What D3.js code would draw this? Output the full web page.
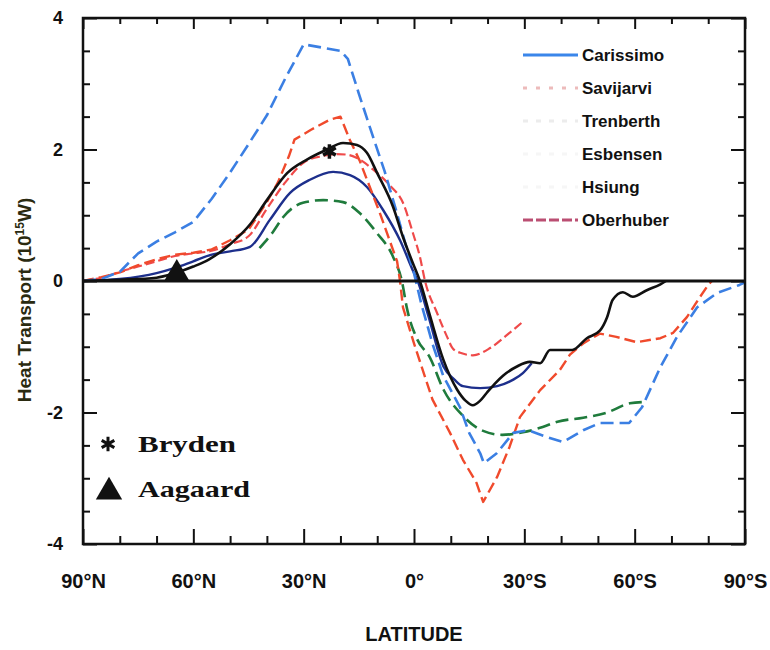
<!DOCTYPE html>
<html><head><meta charset="utf-8">
<script src="https://cdn.jsdelivr.net/npm/d3@7"></script>
<style>
html,body{margin:0;padding:0;background:#fff;}
svg{display:block;}
text{font-family:"Liberation Sans",Arial,sans-serif;font-weight:bold;fill:#111;}
</style></head>
<body>
<svg id="chart" width="770" height="650"></svg>
<script>
// ---- data (latitude in degrees, + = North; heat transport in 10^15 W) ----
const carissimo = [[90,0],[85,0.03],[80,0.14],[75,0.42],[70,0.6],[65,0.74],[60,0.9],[55,1.25],[50,1.65],[45,2.08],[40,2.52],[35,3.08],[30,3.6],[25,3.55],[20,3.5],[18,3.38],[15,2.85],[11,2.17],[8,1.67],[5,1.1],[2,0.5],[0,0.12],[-2,-0.35],[-5,-0.95],[-8,-1.45],[-12.5,-1.92],[-15,-2.31],[-18,-2.62],[-19,-2.77],[-22.5,-2.62],[-27,-2.31],[-31,-2.27],[-36,-2.37],[-40.5,-2.45],[-46,-2.27],[-50.5,-2.16],[-58.5,-2.16],[-62,-1.92],[-67,-1.31],[-71.5,-0.85],[-77,-0.4],[-82.5,-0.18],[-88.5,-0.06],[-90,-0.02]];
const savijarvi = [[90,0],[85,0.05],[80,0.14],[75,0.22],[70,0.3],[65,0.38],[60,0.42],[55,0.46],[50,0.56],[45,0.68],[40,1.1],[35,1.5],[30,1.8],[25,1.9],[21,1.93],[18,1.92],[15.5,1.87],[11,1.69],[6.5,1.45],[3,1.19],[0.3,0.73],[-1.6,0.37],[-3,0],[-6.3,-0.49],[-9,-0.85],[-10.6,-1.03],[-13,-1.1],[-16,-1.13],[-20.7,-1.02],[-25.3,-0.82],[-29.6,-0.62]];
const trenberth = [[90,0],[80,0.02],[70,0.05],[65,0.12],[60,0.22],[55.7,0.33],[50,0.56],[44.6,0.86],[40,1.23],[34.5,1.64],[29,1.85],[24,1.99],[19.3,2.1],[15.5,2.07],[12.8,1.95],[10,1.64],[5.7,1.13],[3,0.67],[0.3,0.27],[-1.6,0],[-4.3,-0.52],[-8,-1.2],[-11.7,-1.65],[-14,-1.82],[-16,-1.89],[-18,-1.82],[-19.8,-1.7],[-22,-1.56],[-24.2,-1.44],[-28,-1.3],[-31.5,-1.23],[-34.3,-1.25],[-37,-1.05],[-43,-1.05],[-47,-0.87],[-50.6,-0.75],[-52.5,-0.55],[-54,-0.29],[-56.8,-0.17],[-59.5,-0.24],[-63.3,-0.14],[-67,-0.05],[-68.5,0]];
const esbensen = [[42,0.5],[38.3,0.75],[35.6,0.97],[30.2,1.19],[24.7,1.23],[19.3,1.2],[14.7,1.03],[10.1,0.73],[5.7,0.37],[3.3,0],[1.9,-0.42],[-0.8,-0.88],[-4.3,-1.16],[-8,-1.65],[-13.3,-2.05],[-18.8,-2.28],[-24,-2.34],[-29.6,-2.3],[-35,-2.22],[-39,-2.14],[-46,-2.08],[-52.5,-2.0],[-58.7,-1.86],[-62.8,-1.84]];
const hsiung = [[90,0],[80,0.03],[70,0.12],[65,0.2],[60,0.3],[55,0.4],[50,0.45],[44.6,0.52],[39.2,0.93],[33.7,1.34],[28.3,1.54],[22,1.66],[17.4,1.61],[12.8,1.43],[8.4,1.08],[3.8,0.62],[0,0.12],[-1,0],[-4,-0.55],[-8,-1.3],[-11,-1.5],[-13.3,-1.6],[-18,-1.63],[-22.6,-1.6],[-27,-1.5],[-29.6,-1.4],[-32,-1.25]];
const oberhuber = [[90,0],[85,0.06],[80,0.13],[75,0.24],[70,0.33],[65,0.4],[60,0.43],[55,0.48],[50,0.62],[45,0.78],[40,1.2],[37,1.5],[34,1.9],[32.5,2.15],[28,2.3],[23,2.45],[20,2.5],[17.4,2.14],[14.7,1.82],[9.2,1.02],[4.6,0.3],[3.8,0],[3,-0.4],[0,-0.95],[-5,-1.8],[-9.8,-2.31],[-13.3,-2.72],[-17,-3.07],[-18.8,-3.36],[-22.6,-2.98],[-26,-2.52],[-28.8,-2.07],[-34.3,-1.66],[-39.7,-1.35],[-42.4,-1.12],[-46,-0.95],[-50.5,-0.8],[-55,-0.85],[-60.5,-0.93],[-67,-0.87],[-70.4,-0.79],[-74.2,-0.55],[-77.8,-0.24],[-80,-0.06],[-81,0]];
const bryden = [[23,1.97]];
const aagaard = [[64.5,0.12]];

const seriesNames = ["Carissimo","Savijarvi","Trenberth","Esbensen","Hsiung","Oberhuber"];
const seriesData = [carissimo, savijarvi, trenberth, esbensen, hsiung, oberhuber];
const xTickValues = [90,60,30,0,-30,-60,-90];
const xTickLabels = ["90°N","60°N","30°N","0°","30°S","60°S","90°S"];
const yTickValues = [4,2,0,-2,-4];
const yTickLabels = ["4","2","0","-2","-4"];

// ---- styles ----
const styles = {
  Carissimo:{color:"#3b7fe3", dash:"13,6", width:2.6, curve:d3.curveLinear, legendColor:"#3a86ea", legendDash:null, legendOpacity:1},
  Savijarvi:{color:"#ef4a4a", dash:"9,4", width:2.2, curve:d3.curveMonotoneX, legendColor:"#d86a6a", legendDash:"4,9", legendOpacity:0.45},
  Trenberth:{color:"#111111", dash:null, width:2.6, curve:d3.curveMonotoneX, legendColor:"#999", legendDash:"5,8", legendOpacity:0.18},
  Esbensen:{color:"#1f7b3c", dash:"13,6", width:2.6, curve:d3.curveMonotoneX, legendColor:"#aaa", legendDash:"5,8", legendOpacity:0.1},
  Hsiung:{color:"#1d2f8c", dash:null, width:2.4, curve:d3.curveMonotoneX, legendColor:"#aaa", legendDash:"5,8", legendOpacity:0.1},
  Oberhuber:{color:"#f04a2c", dash:"11,5", width:2.4, curve:d3.curveLinear, legendColor:"#b0305a", legendDash:"10,3", legendOpacity:0.85}
};

const X0 = 83, X1 = 745, Y0 = 18, Y1 = 544;
const svg = d3.select("#chart");
const x = d3.scaleLinear().domain([90,-90]).range([X0,X1]);
const y = d3.scaleLinear().domain([-4,4]).range([Y1,Y0]);

// ---- curves ----
const drawOrder = ["Esbensen","Hsiung","Savijarvi","Oberhuber","Carissimo","Trenberth"];
drawOrder.forEach(name => {
  const data = seriesData[seriesNames.indexOf(name)];
  const st = styles[name];
  const line = d3.line().x(d => x(d[0])).y(d => y(d[1])).curve(st.curve);
  svg.append("path").datum(data).attr("d", line)
    .attr("fill","none").attr("stroke",st.color).attr("stroke-width",st.width)
    .attr("stroke-dasharray",st.dash).attr("stroke-linejoin","round");
});

// zero line
svg.append("line").attr("x1",X0).attr("x2",X1).attr("y1",y(0)).attr("y2",y(0))
  .attr("stroke","#111").attr("stroke-width",3);

// ---- axes (ticks inward) ----
const minorY = d3.range(-4,4.001,0.5).filter(v => Math.abs(v % 2) > 1e-6);
const minorX = d3.range(-90,90.001,10).filter(v => Math.abs(v % 30) > 1e-6);
function styleAxis(g){ g.select(".domain").remove(); g.selectAll("line").attr("stroke","#111").attr("stroke-width",2); }

svg.append("g").attr("transform",`translate(${X0},0)`)
  .call(d3.axisLeft(y).tickValues(minorY).tickSize(-7).tickFormat("")).call(styleAxis);
svg.append("g").attr("transform",`translate(${X0},0)`)
  .call(d3.axisLeft(y).tickValues(yTickValues).tickSize(-14).tickPadding(20)
    .tickFormat((d,i) => yTickLabels[i])).call(styleAxis)
  .selectAll("text").style("font-size","18px").attr("font-family","Liberation Sans");
svg.append("g").attr("transform",`translate(${X1},0)`)
  .call(d3.axisRight(y).tickValues(minorY).tickSize(-7).tickFormat("")).call(styleAxis);
svg.append("g").attr("transform",`translate(${X1},0)`)
  .call(d3.axisRight(y).tickValues(yTickValues).tickSize(-14).tickFormat("")).call(styleAxis);

svg.append("g").attr("transform",`translate(0,${Y1})`)
  .call(d3.axisBottom(x).tickValues(minorX).tickSize(-8).tickFormat("")).call(styleAxis);
svg.append("g").attr("transform",`translate(0,${Y1})`)
  .call(d3.axisBottom(x).tickValues(xTickValues).tickSize(-15).tickPadding(30)
    .tickFormat((d,i) => xTickLabels[i])).call(styleAxis)
  .selectAll("text").style("font-size","20px");
svg.append("g").attr("transform",`translate(0,${Y0})`)
  .call(d3.axisTop(x).tickValues(minorX).tickSize(-6).tickFormat("")).call(styleAxis);
svg.append("g").attr("transform",`translate(0,${Y0})`)
  .call(d3.axisTop(x).tickValues(xTickValues).tickSize(-11).tickFormat("")).call(styleAxis);

// frame
svg.append("rect").attr("x",X0).attr("y",Y0).attr("width",X1-X0).attr("height",Y1-Y0)
  .attr("fill","none").attr("stroke","#111").attr("stroke-width",2.5);

// ---- axis titles ----
svg.append("text").attr("x",(X0+X1)/2).attr("y",641).attr("text-anchor","middle")
  .style("font-size","20px").text("LATITUDE");
const yt = svg.append("text").attr("transform","translate(31,300) rotate(-90)")
  .attr("text-anchor","middle").style("font-size","19px").style("fill","#2a2a10");
yt.append("tspan").text("Heat Transport (10");
yt.append("tspan").attr("dy",-7).style("font-size","12px").text("15");
yt.append("tspan").attr("dy",7).text("W)");

// ---- observation markers ----
svg.selectAll("path.bry").data(bryden).enter().append("path")
  .attr("transform", d => `translate(${x(d[0])},${y(d[1])})`)
  .attr("d", d3.symbol().type(d3.symbolAsterisk).size(150))
  .attr("fill","none").attr("stroke","#111").attr("stroke-width",3.5);
svg.selectAll("path.aag").data(aagaard).enter().append("path")
  .attr("transform", d => `translate(${x(d[0])},${y(d[1])})`)
  .attr("d", d3.symbol().type(d3.symbolTriangle).size(260))
  .attr("fill","#111");

// ---- legends ----
const lg = svg.append("g");
seriesNames.forEach((name,i) => {
  const st = styles[name];
  const yy = 55 + i*33;
  lg.append("line").attr("x1",523).attr("x2",578).attr("y1",yy).attr("y2",yy)
    .attr("stroke",st.legendColor).attr("stroke-width",3)
    .attr("stroke-dasharray",st.legendDash).attr("opacity",st.legendOpacity);
  lg.append("text").attr("x",582).attr("y",yy+6).style("font-size","17px").text(name);
});

const ob = svg.append("g");
ob.append("path").attr("transform","translate(108,444)")
  .attr("d", d3.symbol().type(d3.symbolAsterisk).size(150))
  .attr("fill","none").attr("stroke","#111").attr("stroke-width",3);
ob.append("text").attr("x",138).attr("y",452).attr("textLength",98).attr("lengthAdjust","spacingAndGlyphs")
  .style("font-family","'Liberation Serif','DejaVu Serif',serif").style("font-size","24px").text("Bryden");
ob.append("path").attr("transform","translate(109,492)")
  .attr("d", d3.symbol().type(d3.symbolTriangle).size(300)).attr("fill","#111");
ob.append("text").attr("x",138).attr("y",497).attr("textLength",112).attr("lengthAdjust","spacingAndGlyphs")
  .style("font-family","'Liberation Serif','DejaVu Serif',serif").style("font-size","24px").text("Aagaard");
</script>
</body></html>
